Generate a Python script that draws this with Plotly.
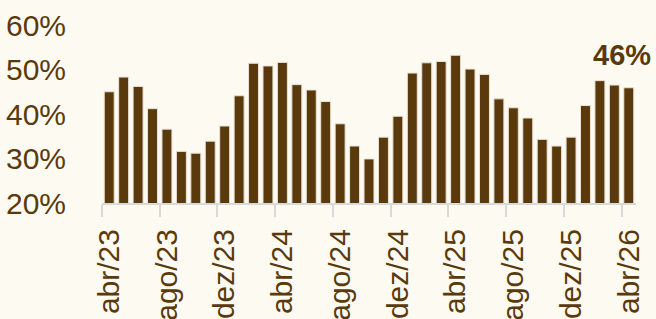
import plotly.graph_objects as go

MONTHS_PT = ["jan", "fev", "mar", "abr", "mai", "jun", "jul", "ago", "set", "out", "nov", "dez"]
start_year, start_month = 2023, 4
n_months = 37
periods = []
for i in range(n_months):
    m = (start_month - 1 + i) % 12
    y = start_year + (start_month - 1 + i) // 12
    periods.append(f"{MONTHS_PT[m]}/{str(y)[2:]}")

values = [45.0, 48.3, 46.2, 41.2, 36.6, 31.6, 31.2, 33.9, 37.3, 44.1,
          51.4, 50.8, 51.6, 46.6, 45.4, 42.8, 37.8, 32.8, 29.9, 34.8,
          39.5, 49.2, 51.5, 51.8, 53.2, 50.1, 48.9, 43.4, 41.4, 39.1,
          34.3, 32.8, 34.8, 41.9, 47.5, 46.5, 45.9]

label_idx = [i for i in range(n_months) if i % 4 == 0]
label_text = [periods[i] for i in label_idx]
boundary_vals = [i - 0.5 for i in label_idx]

y_ticks = [20, 30, 40, 50, 60]

BROWN = "#5a3a0c"
BG = "#fdfaf2"
GRAY = "#d9d9d9"
FONT = "Liberation Sans, Arial, sans-serif"

x = list(range(n_months))
fig = go.Figure(go.Bar(
    x=x, y=values,
    marker=dict(color=BROWN, line=dict(color="#e8e2d6", width=1)),
    hoverinfo="skip",
))

fig.add_annotation(
    x=x[-1], y=values[-1], text=f"<b>{round(values[-1])}%</b>",
    showarrow=False, yanchor="bottom", xanchor="center",
    xshift=-7, yshift=15,
    font=dict(family=FONT, size=29, color=BROWN),
)

fig.update_layout(
    width=656, height=319,
    margin=dict(l=102, r=20, t=25, b=116, autoexpand=False),
    paper_bgcolor=BG, plot_bgcolor=BG,
    bargap=0.31,
    showlegend=False,
    font=dict(family=FONT, color=BROWN),
    xaxis=dict(
        type="linear", range=[-0.5, n_months - 0.5],
        tickvals=label_idx, ticktext=label_text, tickangle=-90,
        ticks="", showgrid=False, zeroline=False,
        showline=True, linecolor=GRAY, linewidth=2,
        tickfont=dict(family=FONT, size=30, color=BROWN),
        ticklabelstandoff=12,
        minor=dict(tickvals=boundary_vals, ticks="outside", ticklen=12,
                   tickcolor=GRAY, tickwidth=2, showgrid=False),
        automargin=False,
        fixedrange=True,
    ),
    yaxis=dict(
        range=[20, 60], tickvals=y_ticks, ticktext=[f"{v}%" for v in y_ticks],
        showgrid=False, zeroline=False, showline=False, ticks="",
        tickfont=dict(family=FONT, size=30, color=BROWN),
        ticklabelstandoff=35,
        automargin=False,
        fixedrange=True,
    ),
)

fig.write_html(
    "out.html",
    config={"displayModeBar": False},
    post_script="document.body.style.margin='0';document.body.style.background='%s';" % BG,
)
